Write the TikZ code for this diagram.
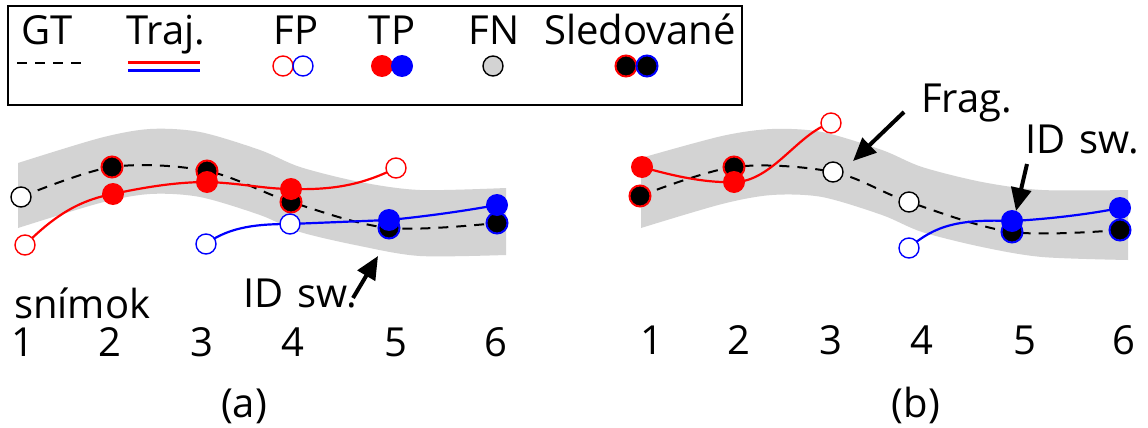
\documentclass[tikz,border=0pt]{standalone}
\usepackage{fontspec}
\setmainfont{Open Sans}
\usetikzlibrary{arrows.meta}
\definecolor{band}{RGB}{211,211,211}
\pgfdeclarelayer{bandlayer}
\pgfdeclarelayer{linelayer}
\pgfsetlayers{bandlayer,linelayer,main}
\tikzset{
  lbl/.style={font=\fontsize{40}{48}\selectfont, inner sep=0pt, anchor=base},
  fpR/.style={circle, draw=red, fill=white, line width=1.4pt, minimum size=20pt, inner sep=0pt},
  fpB/.style={circle, draw=blue, fill=white, line width=1.4pt, minimum size=20pt, inner sep=0pt},
  fnK/.style={circle, draw=black, fill=white, line width=1.4pt, minimum size=20pt, inner sep=0pt},
  fnL/.style={circle, draw=black, fill=band, line width=1.4pt, minimum size=20pt, inner sep=0pt},
  tpR/.style={circle, fill=red, minimum size=22pt, inner sep=0pt},
  tpB/.style={circle, fill=blue, minimum size=22pt, inner sep=0pt},
  sledR/.style={circle, fill=black, draw=red, line width=2pt, minimum size=21pt, inner sep=0pt},
  sledB/.style={circle, fill=black, draw=blue, line width=2pt, minimum size=21pt, inner sep=0pt},
  gtline/.style={black, line width=2pt, dash pattern=on 10pt off 8pt},
  trajR/.style={red, line width=2.2pt},
  trajB/.style={blue, line width=2.2pt},
  bigarrow/.style={black, line width=4pt, -{Triangle[length=23pt,width=20pt]}},
}
\begin{document}
\begin{tikzpicture}[x=1pt,y=-1pt]
\useasboundingbox (0,0) rectangle (1148,428);

% ---------------- legend ----------------
\draw[line width=2pt] (8,6) rectangle (742,105);
\node[lbl] (tGT) at (47,45) {GT};
\node[lbl] (tTraj) at (166,45) {Traj.};
\node[lbl] (tFP) at (296,45) {FP};
\node[lbl] (tTP) at (392,45) {TP};
\node[lbl] (tFN) at (494,45) {FN};
\node[lbl] (tSl) at (640,45) {Sledované};
\coordinate (lg1) at (17,63);
\coordinate (lg2) at (88,63);
\draw[gtline] (lg1) -- (lg2);
\coordinate (lr1) at (128,62.5);
\coordinate (lr2) at (200,62.5);
\coordinate (lb1) at (128,70.5);
\coordinate (lb2) at (200,70.5);
\draw[trajR] (lr1) -- (lr2);
\draw[trajB] (lb1) -- (lb2);
\node[fpR] (lfpr) at (283,66) {};
\node[fpB] (lfpb) at (303,66) {};
\node[tpR] (ltpr) at (382,66) {};
\node[tpB] (ltpb) at (402,66) {};
\node[fnL] (lfn) at (493,66) {};
\node[sledR] (lslr) at (626,66) {};
\node[sledB] (lslb) at (647,66) {};

% ---------------- bands ----------------
\begin{pgfonlayer}{bandlayer}
\fill[band] plot[smooth] coordinates {(18,163) (100,138) (150,129) (200,132) (260,150) (300,167) (360,182) (420,190) (506,188)}
  -- plot[smooth] coordinates {(506,255) (420,256) (360,246) (300,232) (260,215) (200,197) (150,194) (100,203) (18,228)} -- cycle;
\fill[band] plot[smooth] coordinates {(641,158) (722,136) (772,129) (822,132) (882,150) (922,167) (982,182) (1042,190) (1128,190)}
  -- plot[smooth] coordinates {(1128,260) (1042,257) (982,247) (922,232) (882,215) (822,197) (772,195) (722,204) (641,228)} -- cycle;
\end{pgfonlayer}

% ---------------- panel (a) ----------------
\node[fnK] (a1g) at (21,197) {};
\node[sledR] (a2g) at (112,167) {};
\node[sledR] (a3g) at (207,171) {};
\node[sledR] (a4g) at (291,202) {};
\node[sledB] (a5g) at (389,228) {};
\node[sledB] (a6g) at (497,223) {};

\node[fpR] (a1r) at (25,245) {};
\node[tpR] (a2r) at (113,194) {};
\node[tpR] (a3r) at (207,182) {};
\node[tpR] (a4r) at (291,189) {};
\node[fpR] (a5r) at (396,168) {};

\node[fpB] (a3b) at (206,244) {};
\node[fpB] (a4b) at (290,224) {};
\node[tpB] (a5b) at (389,220) {};
\node[tpB] (a6b) at (497,205) {};

\begin{pgfonlayer}{linelayer}
\draw[gtline] plot[smooth, tension=0.55] coordinates {(a1g.center) (a2g.center) (a3g.center) (a4g.center) (a5g.center) (a6g.center)};
\draw[trajR] (a1r.center) .. controls (55,215) and (80,200) .. (a2r.center)
  .. controls (150,186) and (180,182) .. (a3r.center)
  .. controls (240,183) and (265,189) .. (a4r.center)
  .. controls (330,190) and (360,186) .. (a5r.center);
\draw[trajB] (a3b.center) .. controls (230,226) and (260,224) .. (a4b.center)
  -- (a5b.center) .. controls (430,216) and (470,210) .. (a6b.center);
\end{pgfonlayer}

\coordinate (aarT) at (353,298);
\coordinate (aarH) at (378,256);
\draw[bigarrow] (aarT) -- (aarH);
\node[lbl, anchor=base west] (aID) at (243,307) {ID\hspace{14pt}sw.};
\node[lbl, anchor=base west] (asn) at (14,318) {snímok};
\node[lbl] (an1) at (23,356) {1};
\node[lbl] (an2) at (110,356) {2};
\node[lbl] (an3) at (202,356) {3};
\node[lbl] (an4) at (293,356) {4};
\node[lbl] (an5) at (396,356) {5};
\node[lbl] (an6) at (496,356) {6};
\node[lbl] (acap) at (244,417) {(a)};

% ---------------- panel (b) ----------------
\node[sledR] (b1g) at (640,196) {};
\node[sledR] (b2g) at (734,167) {};
\node[fnK] (b3g) at (833,172) {};
\node[fnK] (b4g) at (909,202) {};
\node[sledB] (b5g) at (1012,232) {};
\node[sledB] (b6g) at (1120,230) {};

\node[tpR] (b1r) at (642,167) {};
\node[tpR] (b2r) at (734,182) {};
\node[fpR] (b3r) at (831,123) {};

\node[fpB] (b4b) at (909,248) {};
\node[tpB] (b5b) at (1012,221) {};
\node[tpB] (b6b) at (1120,208) {};

\begin{pgfonlayer}{linelayer}
\draw[gtline] plot[smooth, tension=0.55] coordinates {(b1g.center) (b2g.center) (b3g.center) (b4g.center) (b5g.center) (b6g.center)};
\draw[trajR] (b1r.center) .. controls (680,178) and (710,183) .. (b2r.center)
  .. controls (772,182) and (798,133) .. (b3r.center);
\draw[trajB] (b4b.center) .. controls (935,225) and (960,219) .. (b5b.center)
  .. controls (1050,219) and (1090,214) .. (b6b.center);
\end{pgfonlayer}

\coordinate (bfT) at (904,112);
\coordinate (bfH) at (853,161);
\draw[bigarrow] (bfT) -- (bfH);
\coordinate (biT) at (1027,164);
\coordinate (biH) at (1016,211);
\draw[bigarrow] (biT) -- (biH);
\node[lbl, anchor=base west] (bFrag) at (921,112) {Frag.};
\node[lbl, anchor=base west] (bID) at (1025,153) {ID\hspace{14pt}sw.};
\node[lbl] (bn1) at (652,354) {1};
\node[lbl] (bn2) at (739,354) {2};
\node[lbl] (bn3) at (831,354) {3};
\node[lbl] (bn4) at (922,354) {4};
\node[lbl] (bn5) at (1025,354) {5};
\node[lbl] (bn6) at (1124,354) {6};
\node[lbl] (bcap) at (916,417) {(b)};
\end{tikzpicture}
\end{document}
